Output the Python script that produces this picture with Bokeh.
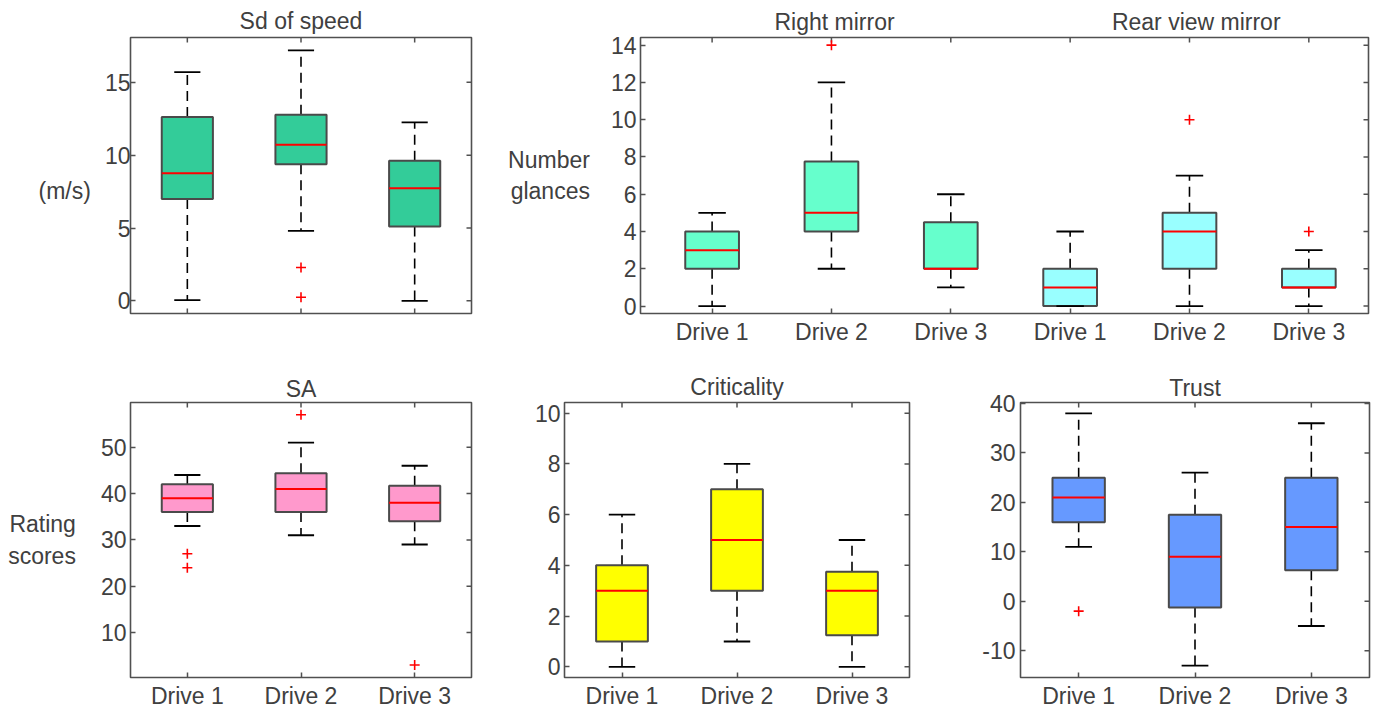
import math
from bokeh.plotting import figure
from bokeh.models import FixedTicker, Range1d
from bokeh.layouts import row, column
from bokeh.embed import file_html
from bokeh.resources import INLINE

# ---------------- data ----------------
drive_labels = ["Drive 1", "Drive 2", "Drive 3"]

# Sd of speed (m/s)
speed_low = [0.05, 4.8, 0.0]
speed_q1 = [7.0, 9.38, 5.11]
speed_med = [8.76, 10.71, 7.73]
speed_q3 = [12.63, 12.78, 9.62]
speed_high = [15.7, 17.2, 12.25]
speed_out_pos = [2, 2]
speed_out_val = [2.29, 0.25]

# Number of glances: Right mirror (1-3) and Rear view mirror (4-6)
mirror_low = [0, 2, 1, 0, 0, 0]
mirror_q1 = [2, 4, 2, 0, 2, 1]
mirror_med = [3, 5, 2, 1, 4, 1]
mirror_q3 = [4, 7.75, 4.5, 2, 5, 2]
mirror_high = [5, 12, 6, 4, 7, 3]
mirror_out_pos = [2, 5, 6]
mirror_out_val = [14, 10, 4]

# SA rating scores
sa_low = [33, 31, 29]
sa_q1 = [36, 36, 34]
sa_med = [39, 41, 38]
sa_q3 = [42, 44.4, 41.7]
sa_high = [44, 51, 46]
sa_out_pos = [1, 1, 2, 3]
sa_out_val = [27, 24, 57, 3]

# Criticality
crit_low = [0, 1, 0]
crit_q1 = [1, 3, 1.25]
crit_med = [3, 5, 3]
crit_q3 = [4, 7, 3.75]
crit_high = [6, 8, 5]
crit_out_pos = []
crit_out_val = []

# Trust
trust_low = [11, -13, -5]
trust_q1 = [16, -1.25, 6.25]
trust_med = [21, 9, 15]
trust_q3 = [25, 17.5, 25]
trust_high = [38, 26, 36]
trust_out_pos = [1]
trust_out_val = [-2]

# ---------------- styles ----------------
FONT = "Liberation Sans"
TXT = "#404040"
FRAME = "#505050"
FS = "23px"
BOX_W = 0.45
CAP_W = 0.23
NBSP = "\u00a0"


def make_fig(width, height, left, right, top, bottom, xr, yr, xticks, yticks,
             xlabels=None, title=None, title_standoff=6, title_align="center",
             title_offset=0, ystandoff=4, ylabel=None, ylabel_standoff=10):
    p = figure(width=width, height=height, x_range=Range1d(*xr), y_range=Range1d(*yr),
               output_backend="svg", toolbar_location=None, tools="",
               min_border_left=left, min_border_right=right,
               min_border_top=top, min_border_bottom=bottom)
    p.xgrid.visible = False
    p.ygrid.visible = False
    p.outline_line_color = FRAME
    p.outline_line_width = 1.6
    p.background_fill_color = "white"
    p.border_fill_color = "white"

    for ax, ticks, standoff in ((p.xaxis[0], xticks, 5), (p.yaxis[0], yticks, ystandoff)):
        ax.ticker = FixedTicker(ticks=ticks)
        ax.axis_line_color = None
        ax.major_tick_in = 5
        ax.major_tick_out = 0
        ax.minor_tick_in = 0
        ax.minor_tick_out = 0
        ax.major_tick_line_color = FRAME
        ax.major_tick_line_width = 1.5
        ax.major_label_text_font = FONT
        ax.major_label_text_color = TXT
        ax.major_label_text_font_size = FS
        ax.major_label_standoff = standoff

    # plain hyphen for negative tick labels (as in the reference)
    p.yaxis[0].major_label_overrides = {t: str(t) for t in yticks if t < 0}

    if xlabels is not None:
        p.xaxis[0].major_label_overrides = {t: lab for t, lab in zip(xticks, xlabels)}
    else:
        p.xaxis.visible = False
        # bottom ticks (inward) drawn as half-clipped dashes on the frame edge
        p.scatter(x=xticks, y=[yr[0]] * len(xticks), marker="dash", size=10,
                  angle=math.pi / 2, line_color=FRAME, line_width=1.5)

    # top and right inward ticks (box on)
    p.scatter(x=xticks, y=[yr[1]] * len(xticks), marker="dash", size=10,
              angle=math.pi / 2, line_color=FRAME, line_width=1.5)
    p.scatter(x=[xr[1]] * len(yticks), y=yticks, marker="dash", size=10,
              line_color=FRAME, line_width=1.5)

    if ylabel is not None:
        ya = p.yaxis[0]
        ya.axis_label = ylabel
        ya.axis_label_orientation = "horizontal"
        ya.axis_label_text_font = FONT
        ya.axis_label_text_font_size = FS
        ya.axis_label_text_font_style = "normal"
        ya.axis_label_text_color = TXT
        ya.axis_label_standoff = ylabel_standoff

    if title is not None:
        p.title.text = title
        p.title.align = title_align
        p.title.offset = title_offset
        p.title.text_font = FONT
        p.title.text_font_size = FS
        p.title.text_font_style = "normal"
        p.title.text_color = TXT
        p.title.standoff = title_standoff
    return p


def draw_boxes(p, low, q1, med, q3, high, out_pos, out_val, colors):
    pos = list(range(1, len(med) + 1))
    # whiskers
    p.segment(x0=pos, y0=q3, x1=pos, y1=high, line_color="black",
              line_width=1.6, line_dash="10 6")
    p.segment(x0=pos, y0=q1, x1=pos, y1=low, line_color="black",
              line_width=1.6, line_dash="10 6")
    # boxes
    p.vbar(x=pos, width=BOX_W, bottom=q1, top=q3, fill_color=colors,
           line_color="#4a4a4a", line_width=2)
    # caps
    p.segment(x0=[x - CAP_W / 2 for x in pos], y0=high, x1=[x + CAP_W / 2 for x in pos],
              y1=high, line_color="black", line_width=1.8)
    p.segment(x0=[x - CAP_W / 2 for x in pos], y0=low, x1=[x + CAP_W / 2 for x in pos],
              y1=low, line_color="black", line_width=1.8)
    # medians
    p.segment(x0=[x - BOX_W / 2 for x in pos], y0=med, x1=[x + BOX_W / 2 for x in pos],
              y1=med, line_color="#ff0000", line_width=2)
    # outliers
    if out_pos:
        p.scatter(x=out_pos, y=out_val, marker="cross", size=10,
                  line_color="#ff0000", line_width=1.6)


# ---------------- top row ----------------
p1 = make_fig(505, 360, 130, 34, 37, 47, (0.5, 3.5), (-0.87, 18.08),
              [1, 2, 3], [0, 5, 10, 15], xlabels=None, title="Sd of speed",
              title_standoff=7, ystandoff=0, ylabel="\n(m/s)", ylabel_standoff=11)
draw_boxes(p1, speed_low, speed_q1, speed_med, speed_q3, speed_high,
           speed_out_pos, speed_out_val, ["#33CC99"] * 3)

mirror_title = "Right mirror" + NBSP * 34 + "Rear view mirror"
p2 = make_fig(875, 360, 134, 12, 37, 47, (0.4, 6.5), (-0.4, 14.41),
              [1, 2, 3, 4, 5, 6], [0, 2, 4, 6, 8, 10, 12, 14],
              xlabels=drive_labels + drive_labels, title=mirror_title,
              title_standoff=6, title_align="left", title_offset=134,
              ystandoff=4, ylabel="Number\nglances", ylabel_standoff=18)
draw_boxes(p2, mirror_low, mirror_q1, mirror_med, mirror_q3, mirror_high,
           mirror_out_pos, mirror_out_val, ["#66FFCC"] * 3 + ["#99FFFF"] * 3)

# ---------------- bottom row ----------------
p3 = make_fig(509, 351, 130, 38, 42, 34, (0.5, 3.5), (0.3, 59.65),
              [1, 2, 3], [10, 20, 30, 40, 50], xlabels=drive_labels, title="SA",
              title_standoff=1, ystandoff=4, ylabel="Rating\nscores", ylabel_standoff=22)
draw_boxes(p3, sa_low, sa_q1, sa_med, sa_q3, sa_high, sa_out_pos, sa_out_val,
           ["#FF99CC"] * 3)

p4 = make_fig(466, 351, 55, 66, 42, 34, (0.5, 3.5), (-0.42, 10.42),
              [1, 2, 3], [0, 2, 4, 6, 8, 10], xlabels=drive_labels, title="Criticality",
              title_standoff=6, ystandoff=4)
draw_boxes(p4, crit_low, crit_q1, crit_med, crit_q3, crit_high, crit_out_pos,
           crit_out_val, ["#FFFF00"] * 3)

p5 = make_fig(405, 351, 45, 11, 42, 34, (0.5, 3.5), (-15.42, 40.2),
              [1, 2, 3], [-10, 0, 10, 20, 30, 40], xlabels=drive_labels, title="Trust",
              title_standoff=3, ystandoff=5)
draw_boxes(p5, trust_low, trust_q1, trust_med, trust_q3, trust_high, trust_out_pos,
           trust_out_val, ["#6699FF"] * 3)

layout = column(row(p1, p2), row(p3, p4, p5))

open("out.html", "w").write(file_html(layout, INLINE))
